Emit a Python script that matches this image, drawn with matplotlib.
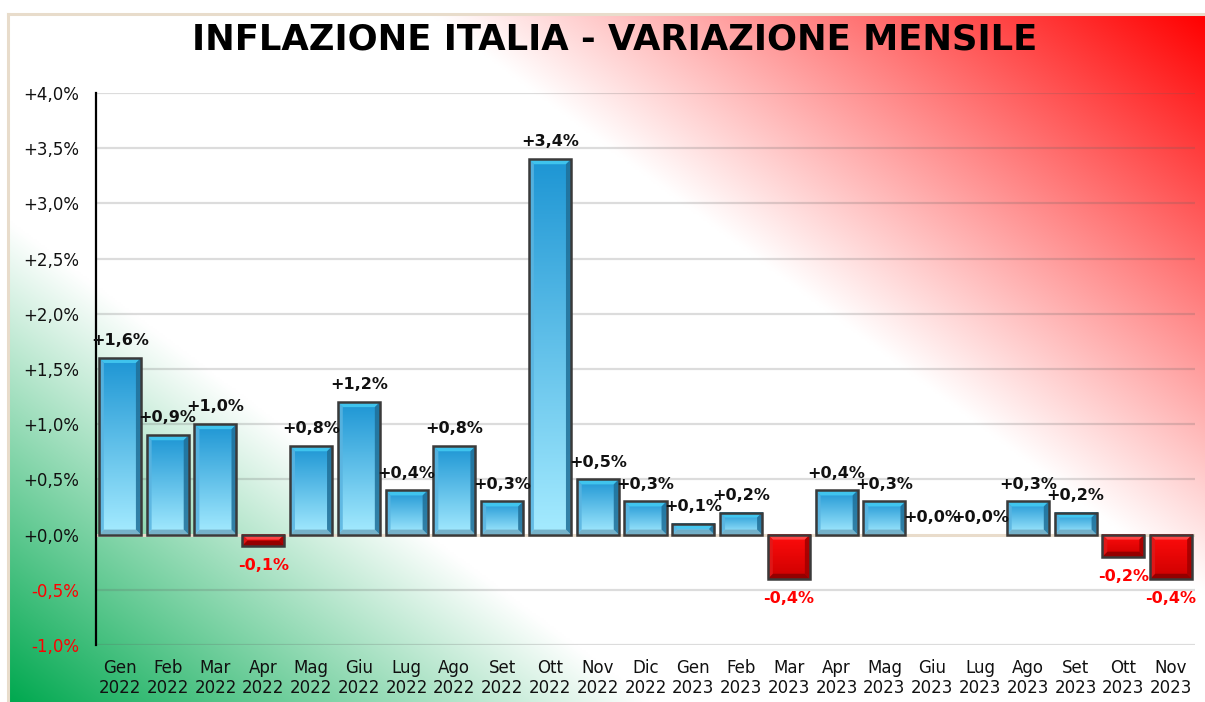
import numpy as np
import matplotlib
matplotlib.use("Agg")
import matplotlib.pyplot as plt
from matplotlib.patches import Polygon
from matplotlib.lines import Line2D

# ---------------- data ----------------
months = ["Gen", "Feb", "Mar", "Apr", "Mag", "Giu", "Lug", "Ago", "Set", "Ott", "Nov", "Dic",
          "Gen", "Feb", "Mar", "Apr", "Mag", "Giu", "Lug", "Ago", "Set", "Ott", "Nov"]
years = ["2022"] * 12 + ["2023"] * 11
values = [1.6, 0.9, 1.0, -0.1, 0.8, 1.2, 0.4, 0.8, 0.3, 3.4, 0.5, 0.3,
          0.1, 0.2, -0.4, 0.4, 0.3, 0.0, 0.0, 0.3, 0.2, -0.2, -0.4]
y_ticks = [-1.0, -0.5, 0.0, 0.5, 1.0, 1.5, 2.0, 2.5, 3.0, 3.5, 4.0]
title = "INFLAZIONE ITALIA - VARIAZIONE MENSILE"


def fmt(v):
    return ("%+.1f%%" % v).replace(".", ",")


W, H = 1205, 702
fig = plt.figure(figsize=(W / 100, H / 100), dpi=100)
fig.patch.set_facecolor("white")
plt.rcParams["font.family"] = ["DejaVu Sans"]

# ---------------- background gradient (frame region) ----------------
fx_px, fy_px = 8, 14
bg = fig.add_axes([fx_px / W, 0, 1 - fx_px / W, 1 - fy_px / H], zorder=0)
bg.set_axis_off()
ny, nx = 350, 600
Xp = np.linspace(fx_px, W, nx)[None, :]
Yp = np.linspace(fy_px, H, ny)[:, None]
c = Yp - 0.75 * Xp
r = np.clip((-310 - c) / 580.0, 0, 1)
g = np.clip((c - 215) / 481.0, 0, 1)
white = np.array([1.0, 1.0, 1.0])
red = np.array([1.0, 0.0, 0.0])
green = np.array([0.0, 0.66, 0.31])
img = (white[None, None, :] * (1 - r[..., None] - g[..., None])
       + red[None, None, :] * r[..., None] + green[None, None, :] * g[..., None])
img = np.clip(img, 0, 1)
bg.imshow(img, extent=[0, 1, 0, 1], aspect="auto", interpolation="bilinear")
bg.set_xlim(0, 1)
bg.set_ylim(0, 1)
# beige frame
fig.add_artist(Line2D([fx_px / W, fx_px / W], [0, 1 - fy_px / H], transform=fig.transFigure,
                      color="#e8dccb", lw=2.2, zorder=1))
fig.add_artist(Line2D([fx_px / W, 1], [1 - fy_px / H, 1 - fy_px / H], transform=fig.transFigure,
                      color="#e8dccb", lw=2.2, zorder=1))

# ---------------- main axes ----------------
L, R, T, B = 96, 1195, 93, 645
ax = fig.add_axes([L / W, 1 - B / H, (R - L) / W, (B - T) / H], zorder=2)
ax.patch.set_alpha(0)
n = len(values)
x = np.arange(n)
ax.set_xlim(-0.5, n - 0.5)
ax.set_ylim(-1.0, 4.0)

for sp in ["top", "right", "bottom"]:
    ax.spines[sp].set_visible(False)
ax.spines["left"].set_color("black")
ax.spines["left"].set_linewidth(1.6)
ax.spines["left"].set_zorder(6)

ax.set_yticks(y_ticks)
ax.set_yticklabels([fmt(t) for t in y_ticks], fontsize=12)
for lab, t in zip(ax.get_yticklabels(), y_ticks):
    lab.set_color("#ff0000" if t < 0 else "#111111")
ax.set_xticks(x)
ax.set_xticklabels([m + "\n" + y for m, y in zip(months, years)], fontsize=12, color="#111111",
                   linespacing=1.15)
ax.tick_params(axis="both", length=0)
ax.tick_params(axis="y", pad=12)
ax.tick_params(axis="x", pad=10)

for t in y_ticks:
    if t == 0:
        continue
    ax.axhline(t, color="#606060", alpha=0.22, lw=1.6, zorder=1)
ax.axhline(0, color="#e9dccb", lw=2.2, zorder=2)

# pixel -> data conversion
fig.canvas.draw()
p0 = ax.transData.transform((0, 0))
p1 = ax.transData.transform((1, 1))
ppx = p1[0] - p0[0]
ppy = p1[1] - p0[1]

bw = 0.88
bev_px = 5.0
for xi, v in zip(x, values):
    if v == 0:
        continue
    x0, x1 = xi - bw / 2, xi + bw / 2
    pos = v > 0
    ylo, yhi = (0, v) if pos else (v, 0)
    hpx = abs(v) * ppy
    bpx = min(bev_px, hpx / 2.2)
    bx = bev_px / ppx
    by = bpx / ppy
    N = 64
    tt = np.linspace(0, 1, N)[:, None]
    if pos:
        ctop = np.array([30, 150, 212]) / 255
        cbot = np.array([165, 235, 255]) / 255
    else:
        ctop = np.array([255, 12, 12]) / 255
        cbot = np.array([205, 0, 0]) / 255
    grad = (ctop[None, :] * (1 - tt) + cbot[None, :] * tt)[:, None, :]
    ax.imshow(grad, extent=[x0, x1, ylo, yhi], aspect="auto", interpolation="bilinear",
              zorder=3)
    if pos:
        top_c, bot_c, left_c, right_c = "#45ccf2", "#6ea8c0", "#5ab4e0", "#1f6f98"
    else:
        top_c, bot_c, left_c, right_c = "#ff5050", "#8a0000", "#e01a1a", "#a00000"
    polys = [
        ([(x0, yhi), (x1, yhi), (x1 - bx, yhi - by), (x0 + bx, yhi - by)], top_c),
        ([(x0, ylo), (x1, ylo), (x1 - bx, ylo + by), (x0 + bx, ylo + by)], bot_c),
        ([(x0, ylo), (x0, yhi), (x0 + bx, yhi - by), (x0 + bx, ylo + by)], left_c),
        ([(x1, ylo), (x1, yhi), (x1 - bx, yhi - by), (x1 - bx, ylo + by)], right_c),
    ]
    for pts, col in polys:
        ax.add_patch(Polygon(pts, closed=True, facecolor=col, edgecolor="none", alpha=0.85,
                             zorder=4))

ax.bar(x, values, width=bw, fill=False, edgecolor="#3a3a3a",
       linewidth=[1.8 if v != 0 else 0 for v in values], zorder=5)

# value labels
for xi, v in zip(x, values):
    if v >= 0:
        ax.annotate(fmt(v), (xi, v), xytext=(0, 12.5), textcoords="offset points",
                    ha="center", va="center", fontsize=11.5, fontweight="bold",
                    color="#111111", zorder=7)
    else:
        ax.annotate(fmt(v), (xi, v), xytext=(0, -14.5), textcoords="offset points",
                    ha="center", va="center", fontsize=11.5, fontweight="bold",
                    color="#ff0000", zorder=7)

fig.text(615 / W, 1 - 40 / H, title, ha="center", va="center", fontsize=25.5,
         fontweight="bold", color="black", zorder=10)

fig.savefig("out.png", dpi=100)
